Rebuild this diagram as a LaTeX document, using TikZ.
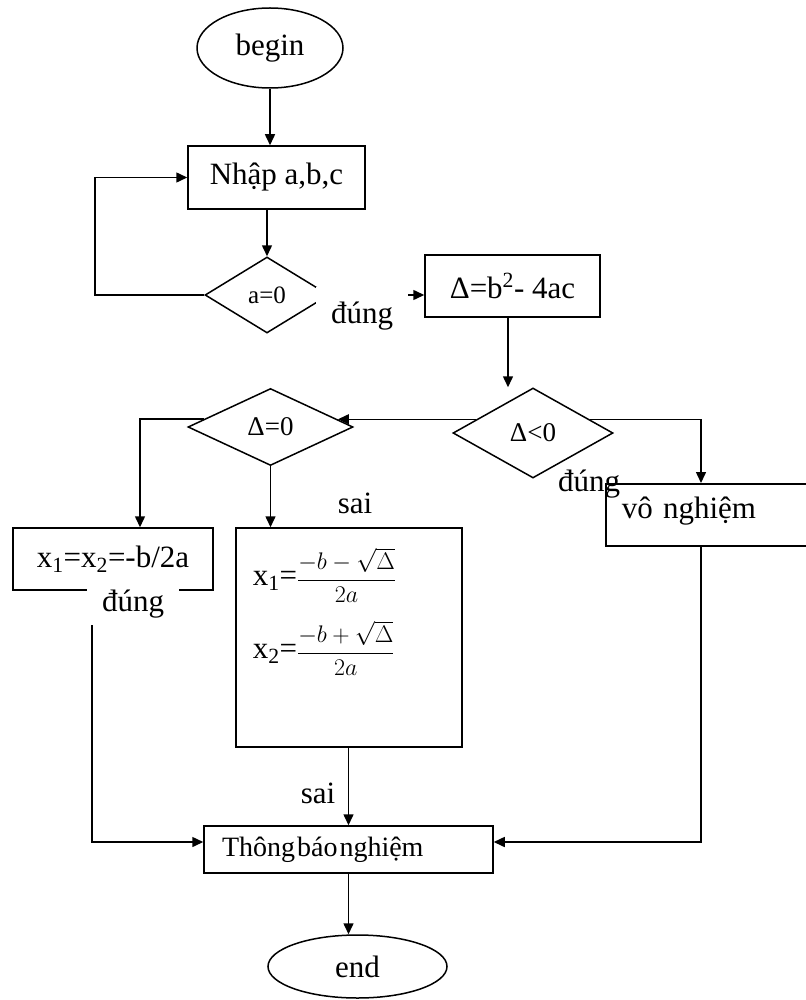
\RequirePackage{fix-cm}
\documentclass[tikz,border=0pt]{standalone}
\usepackage{fontspec}
\setmainfont{Liberation Serif}
\usetikzlibrary{shapes.geometric,arrows.meta,calc}
\begin{document}
\begin{tikzpicture}[x=1pt,y=-1pt,
  font=\fontsize{31}{36}\selectfont,
  line width=1.5pt,
  box/.style={draw, rectangle, inner sep=0pt},
  dia/.style={draw, diamond, inner sep=0pt, font=\fontsize{27}{32}\selectfont},
  ell/.style={draw, ellipse, inner sep=0pt},
  arr/.style={-{Triangle[length=11pt,width=10pt]}},
  lbl/.style={inner sep=0pt},
  lblw/.style={fill=white, inner xsep=15pt}]
\useasboundingbox (0,0) rectangle (805,1000);

% nodes
\node[ell, minimum width=146pt, minimum height=80pt] (start) at (270,48) {begin};
\node[box, minimum width=177pt, minimum height=63pt] (nhap) at (276.5,177.5) {Nhập a,b,c};
\node[dia, minimum width=124pt, minimum height=76pt, font=\fontsize{25}{30}\selectfont] (a0) at (267,295) {a=0};
\node[box, minimum width=175pt, minimum height=62pt] (dbox) at (512.5,286) {Δ=b\textsuperscript{2}- 4ac};
\node[dia, minimum width=160pt, minimum height=90pt] (dlt) at (533,433) {Δ<0};
\node[dia, minimum width=165pt, minimum height=77pt] (deq) at (270.5,427) {Δ=0};
\node[box, minimum width=200pt, minimum height=62pt] (x12) at (113,559) {x\textsubscript{1}=x\textsubscript{2}=-b/2a};
\node[box, minimum width=226pt, minimum height=219pt] (big) at (349,637.5) {};
\node[anchor=west, inner sep=0pt] (f1) at (252,575) {x\textsubscript{1}={\fontsize{24}{28}\selectfont$\displaystyle\frac{-b-\sqrt{\Delta}}{2a}$}};
\node[anchor=west, inner sep=0pt] (f2) at (252,648) {x\textsubscript{2}={\fontsize{24}{28}\selectfont$\displaystyle\frac{-b+\sqrt{\Delta}}{2a}$}};
\node[box, minimum width=210pt, minimum height=62pt, anchor=north west, inner xsep=16pt, text width=178pt, align=left, text depth=14pt] (vn) at (605,483) {vô nghiệm};
\node[box, minimum width=289pt, minimum height=47pt, inner xsep=18pt, text width=253pt, align=left, font=\fontsize{28}{32}\selectfont] (tb) at (348.5,849.5) {{\spaceskip=2pt Thông báo nghiệm}};
\node[ell, minimum width=179pt, minimum height=63pt] (stop) at (357.5,966.5) {end};

% helper coordinates
\coordinate (cl) at (95,0);
\coordinate (cd) at (508,0);
\coordinate (cx) at (140,0);
\coordinate (cr) at (701,0);
\coordinate (cb) at (92,0);
\coordinate (ch) at (0,842);
\coordinate (p1) at ($(dlt.west)!0.3!(dlt.north)$);
\coordinate (p2) at ($(deq.east)!0.19!(deq.north)$);
\coordinate (p3) at ($(deq.west)!0.2!(deq.north)$);
\coordinate (p4) at ($(dlt.east)!0.3!(dlt.north)$);

% connectors
\draw[arr] (start.south) -- (start.south |- nhap.north);
\draw[arr] (a0.north |- nhap.south) -- (a0.north);
\draw[arr] (a0.west) -| (cl |- nhap.west) -- (nhap.west);
\draw[arr] (a0.east) -- (dbox.west |- a0.east);
\node[lblw, inner ysep=15pt] (l1) at (362,316) {đúng};
\draw[arr] (cd |- dbox.south) -- (cd |- dlt.north);
\draw[arr] (p1) -- (p1 -| p2);
\draw[arr] (p3) -| (cx |- x12.north);
\draw[arr] (deq.south) -- (deq.south |- big.north);
\node[lbl] (l2) at (355,503) {sai};
\draw[arr] (p4) -| (cr |- vn.north);
\node[lbl] (l3) at (589,484) {đúng};
\draw[arr] (cb |- x12.south) -- (cb |- ch) -- (tb.west |- ch);
\node[lblw, inner ysep=1pt, text depth=13pt] (l4) at (133,607) {đúng};
\draw[arr] (tb.north |- big.south) -- (tb.north);
\node[lbl] (l5) at (318,793) {sai};
\draw[arr] (cr |- vn.south) -- (cr |- ch) -- (tb.east |- ch);
\draw[arr] (tb.south) -- (tb.south |- stop.north);
\end{tikzpicture}
\end{document}
